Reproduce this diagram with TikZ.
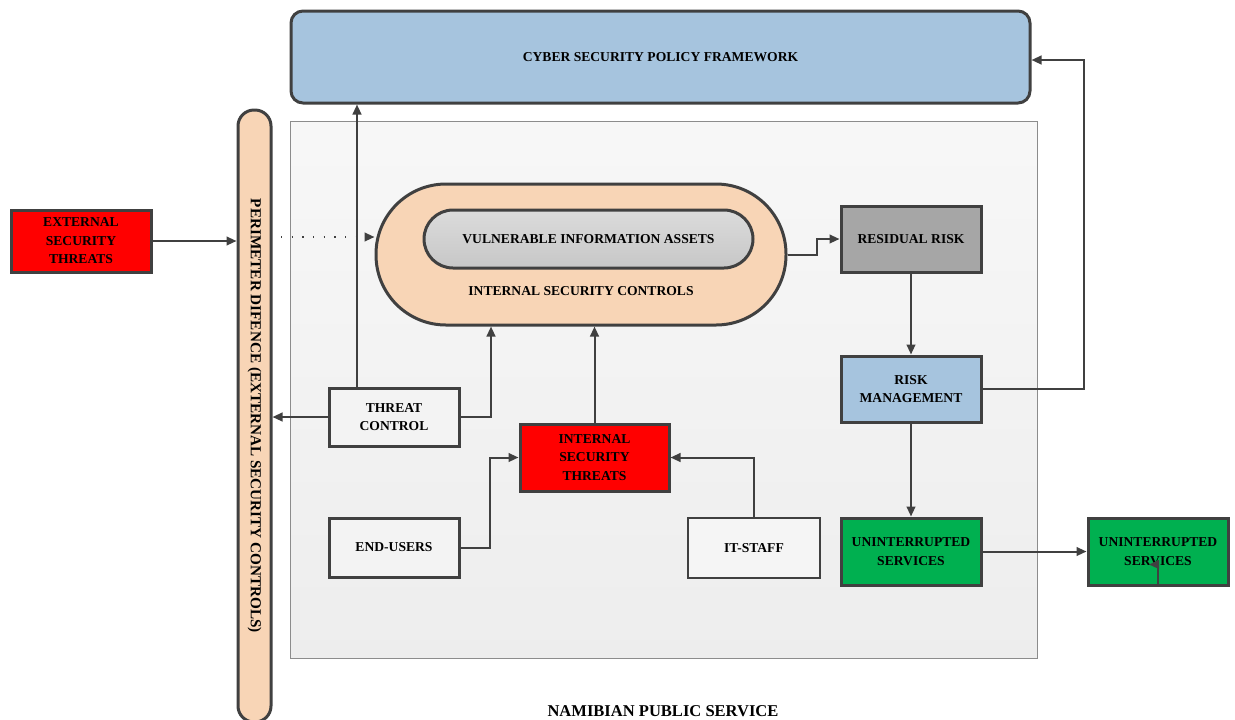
\documentclass[tikz,border=0pt]{standalone}
\usepackage{fontspec}
\setmainfont{Liberation Serif}
\usetikzlibrary{
        arrows.meta,
        calc,
        positioning
    }
\definecolor{edgegray}{RGB}{64,64,64}
\definecolor{policyblue}{RGB}{166,196,222}
\definecolor{peach}{RGB}{248,213,182}
\definecolor{threatred}{RGB}{255,0,0}
\definecolor{riskgray}{RGB}{166,166,166}
\definecolor{servgreen}{RGB}{0,176,80}
\definecolor{actorfill}{RGB}{243,243,243}
\tikzset{>={Triangle[length=7.5pt,width=6.5pt]}, x=0.75pt, y=-0.75pt}
\tikzset{
    boxfont/.style={font=\bfseries\fontsize{10.2}{13.9}\selectfont},
    box/.style={boxfont, draw=edgegray, line width=2.25pt, align=center,
                minimum width=105pt, minimum height=49.5pt, inner sep=1pt},
    actor/.style={box, fill=actorfill, minimum width=97.5pt, minimum height=43.5pt},
    pill/.style={draw=edgegray, line width=2.25pt, boxfont},
    link/.style={draw=edgegray, line width=1.5pt, ->}
}

\begin{document}
\begin{tikzpicture}
    \useasboundingbox (0,0) rectangle (1235,719);
    \node[draw=gray!90, line width=0.75pt, top color=white!97!black, bottom color=white!93!black,
          minimum width=560.25pt, minimum height=402.75pt] (panel) at (663.5,389.5) {};
    \node[pill, fill=policyblue, rounded corners=9pt,
          minimum width=554.25pt, minimum height=69pt] (cspf) at (660.5,57) {CYBER SECURITY POLICY FRAMEWORK};
    \node[pill, fill=peach, rounded corners=12pt,
          minimum width=24.75pt, minimum height=459pt] (perim) at (254.5,416) {};
    \node[rotate=-90, font=\bfseries\fontsize{11.4}{13}\selectfont] (perimlbl) at (perim) {PERIMETER DIFENCE (EXTERNAL SECURITY CONTROLS)};
    \node[box, fill=threatred, minimum height=46.5pt] (ext) at (81,241) {EXTERNAL\\SECURITY\\THREATS};
    \node[pill, fill=peach, rounded corners=52.5pt,
          minimum width=307.5pt, minimum height=105.75pt] (isc) at (581,254.5) {};
    \node[pill, top color=white!86!black, bottom color=white!78!black, rounded corners=21.75pt,
          minimum width=246.75pt, minimum height=43.5pt] (via) at (588.5,239) {VULNERABLE INFORMATION ASSETS};
    \node[boxfont] (isclbl) at (581,291) {INTERNAL SECURITY CONTROLS};
    \node[box, fill=riskgray] (resid) at (911,239) {RESIDUAL RISK};
    \node[box, fill=policyblue] (riskm) at (911,389) {RISK\\MANAGEMENT};
    \node[box, fill=servgreen, minimum height=50.25pt] (unint1) at (911,551.5) {UNINTERRUPTED\\SERVICES};
    \node[box, fill=servgreen, minimum height=50.25pt] (unint2) at (1158,551.5) {UNINTERRUPTED\\SERVICES};
    \node[actor] (thrctl) at (394,417) {THREAT\\CONTROL};
    \node[box, fill=threatred, minimum width=111.75pt, minimum height=50.25pt] (intthr) at (594.5,457.5) {INTERNAL\\SECURITY\\THREATS};
    \node[actor, minimum height=44.25pt] (endusr) at (394,547.5) {END-USERS};
    \node[actor, fill=white!96!black, line width=1.5pt, minimum width=99pt, minimum height=45pt] (itstaff) at (754,548) {IT-STAFF};
    \node[font=\bfseries\fontsize{12.4}{14}\selectfont] (nps) at (663,711) {NAMIBIAN PUBLIC SERVICE};

    \coordinate (dotstart) at (281,237);
    \coordinate (tcup) at ($(thrctl.north)+(-37,0)$);
    \coordinate (tcin) at ($(isc.south)+(-90,0)$);

    \draw[link] (ext) -- (ext -| perim.west);
    \draw[link, dash pattern=on 1pt off 7pt] (dotstart) -- (dotstart -| isc.west);
    \draw[link] (isc.east) -- ++(29,0) |- (resid);
    \draw[link] (resid) -- (riskm);
    \draw[link] (riskm.east) -- ++(101,0) |- ($(cspf.east)+(0,3)$);
    \draw[link] (riskm) -- (unint1);
    \draw[link] (unint1) -- (unint2);
    \draw[link] (unint2.south) |- ++(-9,-22);
    \draw[link] (tcup) -- (tcup |- cspf.south);
    \draw[link] (thrctl.west) -- (thrctl.west -| perim.east);
    \draw[link] (thrctl.east) -| (tcin);
    \draw[link] (intthr) -- (intthr |- isc.south);
    \draw[link] (endusr.east) -- ++(29,0) |- (intthr);
    \draw[link] (itstaff) |- (intthr);
\end{tikzpicture}
\end{document}
